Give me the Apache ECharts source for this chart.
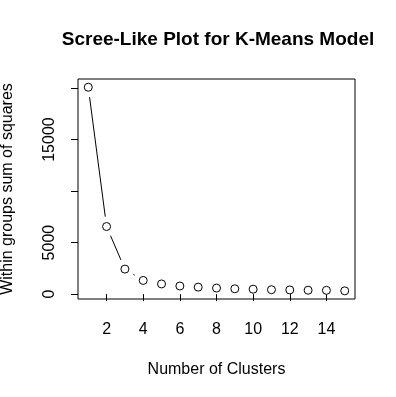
<!DOCTYPE html>
<html>
<head>
<meta charset="utf-8">
<script src="https://cdn.jsdelivr.net/npm/echarts@6/dist/echarts.min.js"></script>
<style>html,body{margin:0;padding:0;background:#fff;}#chart{width:396px;height:397px;}</style>
</head>
<body>
<div id="chart"></div>
<script>
const clusters = [1,2,3,4,5,6,7,8,9,10,11,12,13,14,15];
const wss = [20080,6560,2430,1330,990,790,680,590,520,480,430,410,380,370,320];
const xTicks = [2,4,6,8,10,12,14];
const yTicks = [0,5000,10000,15000,20000];
const yLabels = [0,5000,15000];

const points = clusters.map((c,i)=>[c,wss[i]]);
const segs = [];
for (let i=0;i<clusters.length-1;i++) segs.push([clusters[i],wss[i],clusters[i+1],wss[i+1]]);

const font = '"Liberation Sans", Arial, Helvetica, sans-serif';
const chart = echarts.init(document.getElementById('chart'));
const GAP = 10;
chart.setOption({
  animation:false,
  backgroundColor:'#fff',
  title:{text:'Scree-Like Plot for K-Means Model',left:213,textAlign:'center',top:25,
    textStyle:{fontFamily:font,fontSize:19,fontWeight:'bold',color:'#000'}},
  grid:{left:78,right:41,top:79,bottom:98,show:true,borderColor:'#000',borderWidth:1,backgroundColor:'transparent',
    outerBoundsMode:'none',containLabel:false},
  xAxis:{type:'value',min:0.44,max:15.56,
    name:'Number of Clusters',nameLocation:'middle',nameGap:63,
    nameTextStyle:{fontFamily:font,fontSize:16,color:'#000'},
    axisLine:{show:false},splitLine:{show:false},
    axisTick:{show:true,length:7,lineStyle:{color:'#000'},customValues:xTicks},
    axisLabel:{fontFamily:font,fontSize:16,color:'#000',margin:23,customValues:xTicks,formatter:v=>String(v)}},
  yAxis:{type:'value',min:-471,max:20878,
    name:'Within groups sum of squares',nameLocation:'middle',nameGap:62,nameRotate:90,
    nameTextStyle:{fontFamily:font,fontSize:16,color:'#000'},
    axisLine:{show:false},splitLine:{show:false},
    axisTick:{show:true,length:7,lineStyle:{color:'#000'},customValues:yTicks},
    axisLabel:{fontFamily:font,fontSize:16,color:'#000',margin:20,rotate:90,customValues:yLabels,formatter:v=>String(v)}},
  series:[
    {type:'custom',data:segs,silent:true,z:1,
     renderItem:function(params,api){
       const p1 = api.coord([api.value(0),api.value(1)]);
       const p2 = api.coord([api.value(2),api.value(3)]);
       const dx=p2[0]-p1[0], dy=p2[1]-p1[1];
       const d=Math.sqrt(dx*dx+dy*dy);
       if (d<=2*GAP) return null;
       const ux=dx/d, uy=dy/d;
       return {type:'line',shape:{x1:p1[0]+ux*GAP,y1:p1[1]+uy*GAP,x2:p2[0]-ux*GAP,y2:p2[1]-uy*GAP},
         style:{stroke:'#000',lineWidth:1}};
     }},
    {type:'scatter',data:points,symbol:'circle',symbolSize:8,z:2,
     itemStyle:{color:'#fff',borderColor:'#000',borderWidth:1,opacity:1}}
  ]
});
</script>
</body>
</html>
